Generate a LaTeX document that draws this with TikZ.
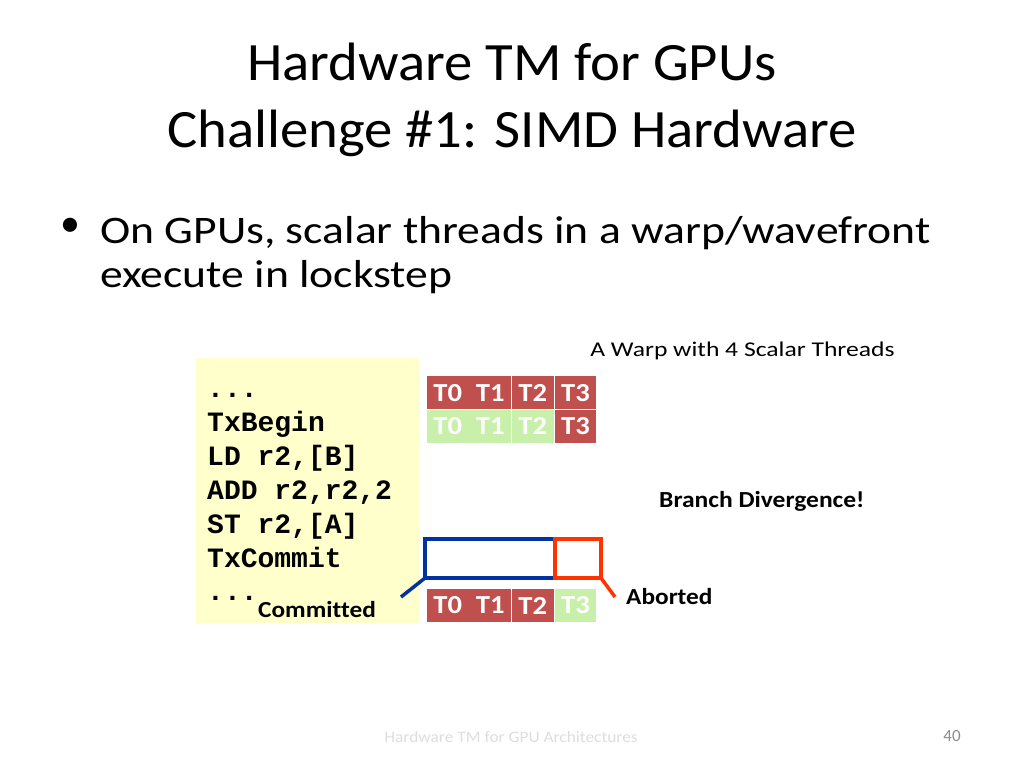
\documentclass[tikz,border=0pt]{standalone}
\usepackage{fontspec}
\setmainfont{Carlito}[Ligatures=NoCommon]
\newfontfamily\codefont{Liberation Mono}
\definecolor{cellred}{RGB}{192,80,77}
\definecolor{cellgreen}{RGB}{200,240,170}
\definecolor{codebg}{RGB}{255,255,204}
\definecolor{boxblue}{RGB}{0,51,160}
\definecolor{boxred}{RGB}{255,51,0}
\definecolor{footgray}{RGB}{222,222,222}
\definecolor{numgray}{RGB}{140,140,140}
\tikzset{
  sx/.style={xscale=#1, transform shape},
  cell/.style={minimum width=37.7pt, minimum height=32.5pt, inner sep=0pt, text=white, sx=1.1, font=\fontsize{26}{26}\selectfont\bfseries},
  redcell/.style={cell, fill=cellred},
  greencell/.style={cell, fill=cellgreen},
  codeline/.style={anchor=base west, inner sep=0pt, font=\codefont\fontsize{28}{28}\selectfont\bfseries},
  lbl/.style={anchor=base west, inner sep=0pt},
  titletext/.style={anchor=base, inner sep=0pt, sx=1.05, font=\fontsize{54}{54}\selectfont},
  bullettext/.style={lbl, sx=1.17, font=\fontsize{39}{39}\selectfont},
}
\begin{document}
\begin{tikzpicture}[x=1pt,y=-1pt]
\useasboundingbox[fill=white] (0,0) rectangle (1024,768);
% title
\node[titletext] (t1) at (512,80) {Hardware TM for GPUs};
\node[titletext] (t2) at (512,147) {Challenge \#1: SIMD Hardware};
% bullet
\node[inner sep=0pt, font=\fontsize{40}{40}\selectfont] (bul) at (70,227) {•};
\node[bullettext] (b1) at (100,243) {On GPUs, scalar threads in a warp/wavefront};
\node[bullettext] (b2) at (100,287) {execute in lockstep};
% code box
\node[fill=codebg, minimum width=223pt, minimum height=265pt, inner sep=0pt, anchor=north west] (code) at (196,358) {};
\node[codeline] (c0) at (207,397) {...};
\node[codeline] (c1) at (207,431) {TxBegin};
\node[codeline] (c2) at (207,465) {LD r2,[B]};
\node[codeline] (c3) at (207,499) {ADD r2,r2,2};
\node[codeline] (c4) at (207,533) {ST r2,[A]};
\node[codeline] (c5) at (207,567) {TxCommit};
\node[codeline] (c6) at (207,600) {...};
\node[lbl, sx=1.1, font=\fontsize{23}{23}\selectfont\bfseries] (committed) at (258,617) {Committed};
% labels
\node[lbl, sx=1.22, font=\fontsize{21}{21}\selectfont] (warp) at (590,356) {A Warp with 4 Scalar Threads};
\node[lbl, sx=1.11, font=\fontsize{23}{23}\selectfont\bfseries] (branch) at (659,507) {Branch Divergence!};
\node[lbl, sx=1.1, font=\fontsize{23}{23}\selectfont\bfseries] (aborted) at (626,604) {Aborted};
% cells row 1
\node[redcell] (a0) at (447.8,392.7) {T0};
\node[redcell] (a1) at (490.2,392.7) {T1};
\node[redcell] (a2) at (532.8,392.7) {T2};
\node[redcell] (a3) at (575.5,392.7) {T3};
% row 2
\node[greencell] (b0) at (447.8,426.3) {T0};
\node[greencell] (b1c) at (490.2,426.3) {T1};
\node[greencell] (b2c) at (532.8,426.3) {T2};
\node[redcell] (b3) at (575.5,426.3) {T3};
% row 3
\node[redcell] (d0) at (447.8,605.5) {T0};
\node[redcell] (d1) at (490.2,605.5) {T1};
\node[redcell] (d2) at (532.8,605.5) {T2};
\node[greencell] (d3) at (575.5,605.5) {T3};
% brackets
\coordinate (bl) at (425,578);
\coordinate (bfree) at (401,597);
\coordinate (rr) at (601,578);
\coordinate (rfree) at (615,597);
\draw[boxblue, line width=3.5pt, line join=miter] (425,539) rectangle (555,578);
\draw[boxblue, line width=3.5pt] (bl) -- (bfree);
\draw[boxred, line width=3.5pt, line join=miter] (555,539) rectangle (601,578);
\draw[boxred, line width=3.5pt] (rr) -- (rfree);
% footer
\node[anchor=base, inner sep=0pt, sx=1.085, text=footgray, font=\fontsize{16}{16}\selectfont] (foot) at (511,742) {Hardware TM for GPU Architectures};
\node[anchor=base, inner sep=0pt, text=numgray, font=\fontsize{17}{17}\selectfont] (num) at (952,741) {40};
\end{tikzpicture}
\end{document}
